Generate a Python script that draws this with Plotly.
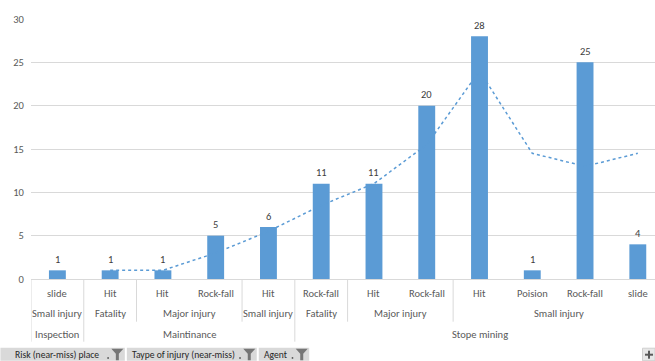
import plotly.graph_objects as go

# ---- data ----
leaf_labels = ["slide", "Hit", "Hit", "Rock-fall", "Hit", "Rock-fall", "Hit", "Rock-fall",
               "Hit", "Poision", "Rock-fall", "slide"]
counts = [1, 1, 1, 5, 6, 11, 11, 20, 28, 1, 25, 4]
# 2-period moving average trend line
trend = [None, 1, 1, 3, 5.5, 8.5, 11, 15.5, 24, 14.5, 13, 14.5]
injury_groups = [("Small injury", 0, 0), ("Fatality", 1, 1), ("Major injury", 2, 3),
                 ("Small injury", 4, 4), ("Fatality", 5, 5), ("Major injury", 6, 7),
                 ("Small injury", 8, 11)]
place_groups = [("Inspection", 0, 0), ("Maintinance", 1, 4), ("Stope mining", 5, 11)]
y_ticks = [0, 5, 10, 15, 20, 25, 30]
field_buttons = ["Risk (near-miss) place", "Taype of injury (near-miss)", "Agent"]

W, H = 655, 361
L, T, B = 30.6, 19.3, 279.3
PW, PH = W - L, B - T
FONT = "Carlito, Calibri, Liberation Sans Narrow, Liberation Sans, sans-serif"
BLUE = "#5b9bd5"
GRID = "#d9d9d9"
TXT = "#595959"

def px(x):
    return (x - L) / PW

def py(y):
    return (B - y) / PH

xs = list(range(len(counts)))

fig = go.Figure()
fig.add_trace(go.Bar(
    x=xs, y=counts, marker=dict(color=BLUE, line=dict(width=0)), width=0.32,
    hoverinfo="skip"))
fig.add_trace(go.Scatter(
    x=xs, y=trend, mode="lines", line=dict(color=BLUE, width=1.5, dash="dot"),
    hoverinfo="skip"))

shapes = []
annotations = []

# value labels
for i, v in enumerate(counts):
    annotations.append(dict(x=i, y=v, xref="x", yref="y", text=str(v), showarrow=False,
                            xanchor="center", yanchor="middle", yshift=11,
                            font=dict(family=FONT, size=10.5, color="#404040")))

rows = [py(293.5), py(314), py(334.5)]
lab_font = dict(family=FONT, size=10.5, color=TXT)
for i, lab in enumerate(leaf_labels):
    annotations.append(dict(x=i, y=rows[0], xref="x", yref="paper", text=lab,
                            xanchor="center", yanchor="middle", showarrow=False, font=lab_font))
for lab, a, b in injury_groups:
    annotations.append(dict(x=(a + b) / 2, y=rows[1], xref="x", yref="paper", text=lab,
                            xanchor="center", yanchor="middle", showarrow=False, font=lab_font))
for lab, a, b in place_groups:
    annotations.append(dict(x=(a + b) / 2, y=rows[2], xref="x", yref="paper", text=lab,
                            xanchor="center", yanchor="middle", showarrow=False, font=lab_font))

# separators
mid_bounds = set()
for lab, a, b in injury_groups:
    mid_bounds.add(a - 0.5)
full_bounds = set([-0.5])
for lab, a, b in place_groups:
    full_bounds.add(a - 0.5)
for xb in sorted(mid_bounds | full_bounds):
    depth = py(342) if xb in full_bounds else py(322)
    shapes.append(dict(type="line", xref="x", yref="paper", x0=xb, x1=xb, y0=0, y1=depth,
                       line=dict(color=GRID, width=1)))

# field buttons
btn_x = [(0, 124.5, 12.5), (126.5, 256.5, 130), (258.5, 309, 262)]
for (x0, x1, tx), lab in zip(btn_x, field_buttons):
    shapes.append(dict(type="rect", xref="paper", yref="paper", x0=px(x0), x1=px(x1),
                       y0=py(361), y1=py(348), fillcolor="#d9d9d9", line=dict(width=0)))
    annotations.append(dict(x=px(tx), y=py(355), xref="paper", yref="paper", text=lab,
                            xanchor="left", yanchor="middle", showarrow=False,
                            font=dict(family=FONT, size=9.6, color="#262626")))
    fx = x1 - 13.5
    # small dot
    shapes.append(dict(type="rect", xref="paper", yref="paper", x0=px(fx - 4), x1=px(fx - 2.5),
                       y0=py(359), y1=py(357.5), fillcolor="#404040", line=dict(width=0)))
    # funnel
    path = "M {} {} L {} {} L {} {} L {} {} L {} {} L {} {} Z".format(
        px(fx), py(349), px(fx + 12), py(349), px(fx + 7.5), py(354),
        px(fx + 7.5), py(360.5), px(fx + 4.5), py(360.5), px(fx + 4.5), py(354))
    shapes.append(dict(type="path", xref="paper", yref="paper", path=path,
                       fillcolor="#767676", line=dict(width=0)))

# plus button
shapes.append(dict(type="rect", xref="paper", yref="paper", x0=px(642.5), x1=px(655),
                   y0=py(361), y1=py(348.5), fillcolor="#e7e7e7", line=dict(color="#d0d0d0", width=1)))
shapes.append(dict(type="line", xref="paper", yref="paper", x0=px(645), x1=px(653),
                   y0=py(355), y1=py(355), line=dict(color="#595959", width=2)))
shapes.append(dict(type="line", xref="paper", yref="paper", x0=px(649), x1=px(649),
                   y0=py(351), y1=py(359), line=dict(color="#595959", width=2)))

fig.update_layout(
    width=W, height=H, margin=dict(l=L, r=0, t=T, b=H - B, autoexpand=False),
    plot_bgcolor="white", paper_bgcolor="white", showlegend=False,
    shapes=shapes, annotations=annotations,
    xaxis=dict(range=[-0.5, -0.5 + PW / 52.8], showticklabels=False, showgrid=False,
               zeroline=False, showline=True, linecolor=GRID, linewidth=1, ticks=""),
    yaxis=dict(range=[0, 30], tickvals=y_ticks, showgrid=True, gridcolor=GRID, gridwidth=1,
               zeroline=False, showline=False, ticks="outside", ticklen=4,
               tickcolor="rgba(0,0,0,0)",
               tickfont=dict(family=FONT, size=10.5, color=TXT)),
    bargap=0.68,
)
fig.write_html("out.html")
